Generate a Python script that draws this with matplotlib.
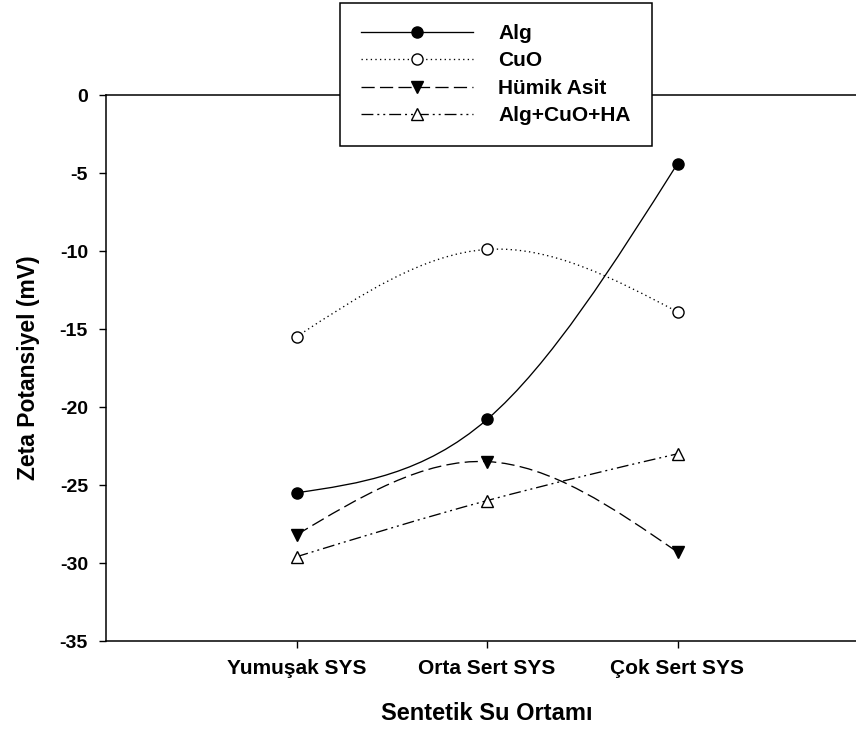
import numpy as np
import matplotlib
matplotlib.use('Agg')
import matplotlib.pyplot as plt
from matplotlib.path import Path
from matplotlib.patches import PathPatch
from matplotlib.lines import Line2D

plt.rcParams['font.family'] = ['Liberation Sans', 'DejaVu Sans']
plt.rcParams['font.weight'] = 'bold'

# Veriler
kategoriler = ['Yumuşak SYS', 'Orta Sert SYS', 'Çok Sert SYS']
x_pos = [1, 2, 3]
alg = [-25.5, -20.8, -4.4]
cuo = [-15.5, -9.9, -13.9]
humik = [-28.2, -23.5, -29.3]
alg_cuo_ha = [-29.6, -26.0, -23.0]
y_ticks = [0, -5, -10, -15, -20, -25, -30, -35]


def spline_path(xs, ys):
    # dogal kubik spline -> Bezier egrileri
    xs = np.asarray(xs, float)
    ys = np.asarray(ys, float)
    n = len(xs)
    h = np.diff(xs)
    A = np.zeros((n, n))
    b = np.zeros(n)
    A[0, 0] = 1
    A[-1, -1] = 1
    for i in range(1, n - 1):
        A[i, i - 1] = h[i - 1]
        A[i, i] = 2 * (h[i - 1] + h[i])
        A[i, i + 1] = h[i]
        b[i] = 6 * ((ys[i + 1] - ys[i]) / h[i] - (ys[i] - ys[i - 1]) / h[i - 1])
    M = np.linalg.solve(A, b)
    verts = [(xs[0], ys[0])]
    codes = [Path.MOVETO]
    for i in range(n - 1):
        d = (ys[i + 1] - ys[i]) / h[i]
        s0 = d - h[i] * (2 * M[i] + M[i + 1]) / 6
        s1 = d + h[i] * (M[i] + 2 * M[i + 1]) / 6
        verts += [(xs[i] + h[i] / 3, ys[i] + s0 * h[i] / 3),
                  (xs[i + 1] - h[i] / 3, ys[i + 1] - s1 * h[i] / 3),
                  (xs[i + 1], ys[i + 1])]
        codes += [Path.CURVE4] * 3
    return Path(verts, codes)


fig = plt.figure(figsize=(8.56, 7.31), dpi=100)
ax = fig.add_axes([106 / 856, 90 / 731, 762 / 856, 546 / 731])

seriler = [
    ('Alg', alg, '-', 'o', 'black'),
    ('CuO', cuo, (0, (1, 2.5)), 'o', 'white'),
    ('Hümik Asit', humik, (0, (10, 4)), 'v', 'black'),
    ('Alg+CuO+HA', alg_cuo_ha, (0, (9, 3, 1.5, 3, 1.5, 3)), '^', 'white'),
]

handles = []
for label, vals, ls, mk, fc in seriler:
    patch = PathPatch(spline_path(x_pos, vals), facecolor='none', edgecolor='black',
                      lw=0.95, linestyle=ls, zorder=2)
    ax.add_patch(patch)
    ax.plot(x_pos, vals, ls='none', marker=mk, ms=8, mfc=fc, mec='black',
            mew=1.0, zorder=3)
    handles.append(Line2D([], [], color='black', lw=0.95, linestyle=ls, marker=mk,
                          ms=8, mfc=fc, mec='black', mew=1.0))

ax.set_xlim(0, 4)
ax.set_ylim(-35, 0)
ax.set_xticks(x_pos)
ax.set_xticklabels(kategoriler, fontsize=15, fontweight='bold')
ax.set_yticks(y_ticks)
ax.set_yticklabels([str(t) for t in y_ticks], fontsize=14, fontweight='bold')
ax.tick_params(direction='out', length=5, width=1, pad=8, colors='black')
ax.spines['right'].set_visible(False)
for s in ['left', 'bottom', 'top']:
    ax.spines[s].set_linewidth(1.1)

ax.set_xlabel('Sentetik Su Ortamı', fontsize=17, fontweight='bold', labelpad=17)
ax.set_ylabel('Zeta Potansiyel (mV)', fontsize=16.5, fontweight='bold', labelpad=14)

leg = ax.legend(handles, [s[0] for s in seriler], loc='upper left',
                bbox_to_anchor=(340 / 856, 1 - 3 / 731), bbox_transform=fig.transFigure,
                fontsize=15, handlelength=5.4, handletextpad=1.2, labelspacing=0.41,
                borderpad=1.0, borderaxespad=0, fancybox=False, framealpha=1,
                edgecolor='black', numpoints=1)
leg.get_frame().set_linewidth(1.1)
for t in leg.get_texts():
    t.set_fontweight('bold')

fig.savefig('out.png', dpi=100)
